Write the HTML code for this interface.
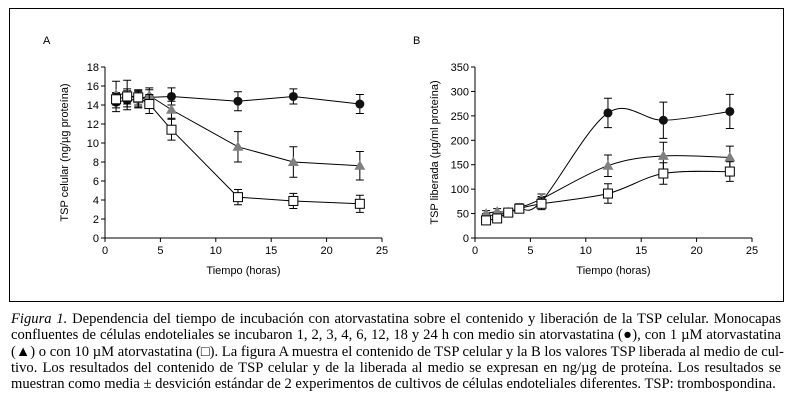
<!DOCTYPE html>
<html><head><meta charset="utf-8"><style>
body{margin:0;background:#fff;width:792px;height:401px;overflow:hidden;position:relative}
#frame{position:absolute;left:9px;top:8px;width:775px;height:294px;border:1px solid #000;box-sizing:border-box}
#cap{position:absolute;left:11px;top:311px;width:770px;font-family:"Liberation Serif",serif;font-size:14.6px;line-height:16.3px;color:#000}
#cap span{display:block;white-space:nowrap;text-align:justify;text-align-last:justify}
#cap span.last{text-align-last:left}
svg text{font-family:"Liberation Sans",sans-serif;font-size:11px}
</style></head><body>
<div id="frame"></div>
<svg id="chart" width="792" height="401" style="position:absolute;left:0;top:0"></svg>
<div id="cap">
<span><i>Figura 1.</i> Dependencia del tiempo de incubación con atorvastatina sobre el contenido y liberación de la TSP celular. Monocapas</span>
<span>confluentes de células endoteliales se incubaron 1, 2, 3, 4, 6, 12, 18 y 24 h con medio sin atorvastatina (●), con 1 µM atorvastatina</span>
<span>(▲) o con 10 µM atorvastatina (□). La figura A muestra el contenido de TSP celular y la B los valores TSP liberada al medio de cul-</span>
<span>tivo. Los resultados del contenido de TSP celular y de la liberada al medio se expresan en ng/µg de proteína. Los resultados se</span>
<span class="last">muestran como media ± desvición estándar de 2 experimentos de cultivos de células endoteliales diferentes. TSP: trombospondina.</span>
</div>
<script>
const times=[1,2,3,4,6,12,17,23];
const aCircle=[14.3,14.5,14.6,14.8,14.9,14.4,14.9,14.1];
const aCircleErr=[1,1,0.8,0.8,0.9,1,0.8,1];
const aTri=[15.1,15.2,14.6,15.0,13.5,9.6,8.0,7.6];
const aTriErr=[1.4,1.4,0.9,0.8,0.9,1.6,1.6,1.5];
const aSq=[14.6,14.9,14.8,14.1,11.4,4.3,3.9,3.6];
const aSqErr=[0.6,0.8,0.8,1,1.1,0.8,0.8,0.9];
const bCircle=[45,48,52,60,75,256,241,259];
const bCircleErr=[5,5,6,8,10,30,37,35];
const bTri=[50,54,53,62,80,148,168,165];
const bTriErr=[6,6,6,8,10,22,28,23];
const bSq=[36,40,52,60,70,91,132,136];
const bSqErr=[8,8,8,8,12,20,22,20];
const xTicks=[0,5,10,15,20,25];
const aYTicks=[0,2,4,6,8,10,12,14,16,18];
const bYTicks=[0,50,100,150,200,250,300,350];
const NS="http://www.w3.org/2000/svg";
const svg=document.getElementById('chart');
function mk(t,a,p){const e=document.createElementNS(NS,t);for(const k in a)e.setAttribute(k,a[k]);(p||svg).appendChild(e);return e;}
function panel(name,x0,x1,yMax,yTicks,ylabel,letter,series,smooth){
  const y0=238,y1=67;
  const sx=v=>x0+(x1-x0)*v/25, sy=v=>y0-(y0-y1)*v/yMax;
  const g=mk('g',{});
  
  
  const lt=mk('text',{x:x0-62,y:44,'font-size':'11'},g);lt.textContent=letter;
  
  
  const ax=mk('path',{d:`M${x0},${y1}V${y0}H${x1}`,stroke:'#000',fill:'none','stroke-width':1},g);
  
  
  xTicks.forEach(v=>{mk('line',{x1:sx(v),x2:sx(v),y1:y0,y2:y0+4,stroke:'#000'},g);
    const t=mk('text',{x:sx(v),y:y0+16,'text-anchor':'middle'},g);t.textContent=v;
    
    });
  yTicks.forEach(v=>{mk('line',{x1:x0-4,x2:x0,y1:sy(v),y2:sy(v),stroke:'#000'},g);
    const t=mk('text',{x:x0-6,y:sy(v)+4,'text-anchor':'end'},g);t.textContent=v;
    
    });
  const xt=mk('text',{x:(x0+x1)/2,y:274,'text-anchor':'middle'},g);xt.textContent='Tiempo (horas)';
  
  
  const yt=mk('text',{x:0,y:0,'text-anchor':'middle',transform:`translate(${x0-37},${(y0+y1)/2}) rotate(-90)`},g);yt.textContent=ylabel;
  
  
  series.forEach(s=>{
    const P=times.map((t,i)=>[sx(t),sy(s.v[i])]);
    let d=`M${P[0][0]},${P[0][1]}`;
    for(let i=0;i<P.length-1;i++){const p0=P[Math.max(0,i-1)],p1=P[i],p2=P[i+1],p3=P[Math.min(P.length-1,i+2)];
      if(smooth) d+=`C${p1[0]+(p2[0]-p0[0])/6},${p1[1]+(p2[1]-p0[1])/6} ${p2[0]-(p3[0]-p1[0])/6},${p2[1]-(p3[1]-p1[1])/6} ${p2[0]},${p2[1]}`;
      else d+=`L${p2[0]},${p2[1]}`;}
    const ln=mk('path',{d:d,stroke:'#000',fill:'none','stroke-width':1},g);
    
    
    times.forEach((t,i)=>{
      const x=sx(t),yh=sy(s.v[i]+s.e[i]),yl=sy(s.v[i]-s.e[i]);
      const eb=mk('path',{d:`M${x},${yh}V${yl}M${x-4},${yh}H${x+4}M${x-4},${yl}H${x+4}`,stroke:'#000',fill:'none'},g);
      
      
    });
    times.forEach((t,i)=>{
      const x=sx(t),y=sy(s.v[i]);let m;
      if(s.shape==='c')m=mk('circle',{cx:x,cy:y,r:4.5,fill:'#111'},g);
      else if(s.shape==='t')m=mk('path',{d:`M${x},${y-5.5}L${x+5.5},${y+4}L${x-5.5},${y+4}Z`,fill:'#808080'},g);
      else m=mk('rect',{x:x-4.5,y:y-4.5,width:9,height:9,fill:'#fff',stroke:'#000'},g);
      
      
    });
  });
}
panel('chart-a',105,382,18,aYTicks,'TSP celular (ng/µg proteína)','A',[
 {name:'control',v:aCircle,e:aCircleErr,shape:'c'},
 {name:'atorva-1um',v:aTri,e:aTriErr,shape:'t'},
 {name:'atorva-10um',v:aSq,e:aSqErr,shape:'s'}],false);
panel('chart-b',475,752,350,bYTicks,'TSP liberada (µg/ml proteína)','B',[
 {name:'control',v:bCircle,e:bCircleErr,shape:'c'},
 {name:'atorva-1um',v:bTri,e:bTriErr,shape:'t'},
 {name:'atorva-10um',v:bSq,e:bSqErr,shape:'s'}],true);
</script>
</body></html>
